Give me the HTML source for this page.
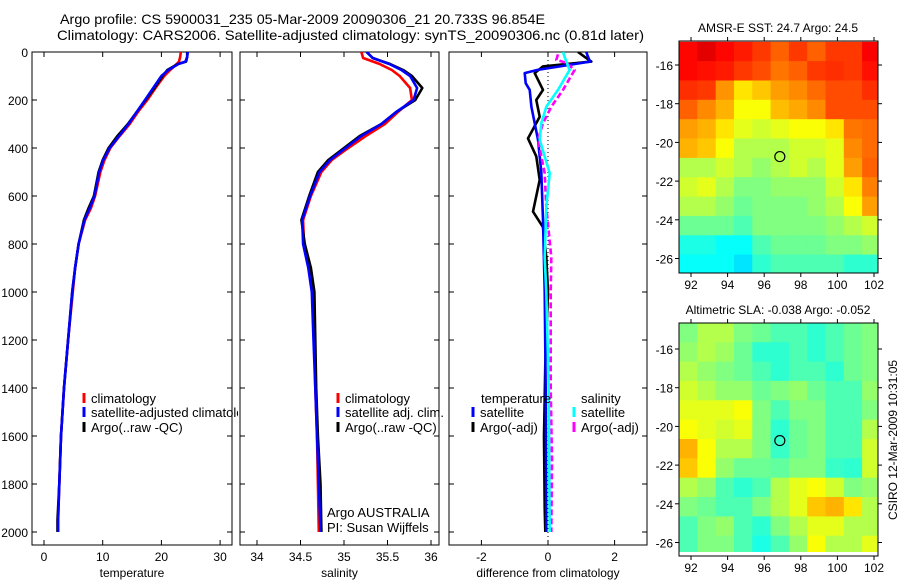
<!DOCTYPE html>
<html><head><meta charset="utf-8">
<style>
html,body{margin:0;padding:0;background:#fff;}
svg{display:block;font-family:"Liberation Sans",sans-serif;}
text{fill:#000;}
</style></head>
<body>
<svg id="chart" width="900" height="580" viewBox="0 0 900 580" xmlns="http://www.w3.org/2000/svg">
<defs>
<clipPath id="cp1"><rect x="32" y="52" width="200" height="493"/></clipPath>
<clipPath id="cp2"><rect x="240" y="52" width="199" height="493"/></clipPath>
<clipPath id="cp3"><rect x="449" y="52" width="198" height="493"/></clipPath>
<clipPath id="cpl1"><rect x="32" y="380" width="206" height="60"/></clipPath>
<clipPath id="cm1"><rect x="679" y="41" width="199" height="232"/></clipPath>
<clipPath id="cm2"><rect x="679" y="323" width="199" height="229"/></clipPath>
</defs>
<text x="60" y="24" font-size="14" textLength="485" lengthAdjust="spacingAndGlyphs">Argo profile: CS 5900031_235 05-Mar-2009 20090306_21 20.733S 96.854E</text>
<text x="57" y="40" font-size="14" textLength="587" lengthAdjust="spacingAndGlyphs">Climatology: CARS2006. Satellite-adjusted climatology: synTS_20090306.nc (0.81d later)</text>
<g id="g"></g>
</svg>
<script>
// ---------- data ----------
const tDepth=[0,20,40,50,75,100,150,200,250,300,350,400,450,500,600,650,700,800,900,1000,1200,1400,1600,1800,1950,2000];
const tClim=[23.3,23.2,23.0,22.6,21.5,20.5,19.0,17.6,16.0,14.6,12.9,11.3,10.3,9.6,8.7,8.0,7.0,5.9,5.3,4.9,4.1,3.4,2.9,2.6,2.4,2.4];
const tSat=[24.5,24.4,24.1,22.9,21.2,20.0,18.6,17.2,15.8,14.4,12.8,11.2,10.1,9.4,8.6,7.8,6.9,5.9,5.3,4.8,4.1,3.4,2.9,2.6,2.4,2.4];
const tArgo=[24.4,24.4,24.2,22.8,21.0,20.2,18.8,17.3,15.8,14.3,12.5,11.0,10.0,9.3,8.5,7.6,6.8,5.9,5.3,4.8,4.1,3.4,2.9,2.6,2.3,2.3];
const sDepth=[0,25,50,75,100,150,200,250,300,350,400,450,500,600,700,800,900,1000,1200,1400,1600,1800,2000];
const sClim=[35.2,35.22,35.41,35.55,35.64,35.76,35.78,35.62,35.47,35.25,35.05,34.86,34.74,34.62,34.53,34.54,34.6,34.64,34.66,34.67,34.69,34.7,34.71];
const sSat=[35.26,35.33,35.52,35.66,35.76,35.84,35.8,35.6,35.43,35.2,35.02,34.84,34.72,34.61,34.52,34.53,34.59,34.63,34.65,34.67,34.69,34.71,34.73];
const sArgo=[35.26,35.33,35.53,35.68,35.78,35.9,35.82,35.6,35.43,35.18,35.0,34.82,34.7,34.6,34.51,34.55,34.62,34.66,34.67,34.68,34.7,34.73,34.74];
const dTDepth=[0,20,40,75,88,130,158,228,297,366,500,700,1000,1400,2000];
const dTSat=[1.15,1.2,1.26,-0.33,-0.7,-0.67,-0.55,-0.5,-0.4,-0.3,-0.2,-0.15,-0.1,-0.07,-0.05];
const dADepth=[0,20,40,60,88,158,200,270,360,435,533,665,730,855,1000,1300,1600,1900,2000];
const dTArgo=[0.9,1.1,1.3,-0.15,-0.4,-0.15,-0.35,-0.25,-0.6,-0.35,-0.25,-0.45,-0.15,-0.05,0.0,-0.08,-0.12,-0.1,-0.08];
const dSDepth=[0,20,40,75,158,228,297,366,505,646,855,1000,1400,2000];
const dSSat=[0.45,0.5,0.55,0.65,0.3,-0.05,-0.2,-0.25,0.05,-0.05,-0.1,-0.05,0.02,0.05];
const dMDepth=[10,33,45,75,158,228,297,366,505,646,855,1000,1400,1700,2000];
const dSArgo=[0.3,0.25,0.55,0.8,0.45,0.1,-0.15,-0.3,-0.1,-0.05,0.1,0.08,0.08,0.12,0.1];
const depthTicks=[0,200,400,600,800,1000,1200,1400,1600,1800,2000];
const tempTicks=[0,10,20,30];
const salTicks=[34,34.5,35,35.5,36];
const salTickLabels=["34","34.5","35","35.5","36"];
const diffTicks=[-2,0,2];
const lonTicks=[92,94,96,98,100,102];
const sstLatTicks=[-16,-18,-20,-22,-24,-26];
const slaLatTicks=[-16,-18,-20,-22,-24,-26];
const sstGrid=[
[0.87,0.9,0.87,0.85,0.82,0.78,0.82,0.78,0.82,0.82,0.88],
[0.87,0.86,0.85,0.82,0.8,0.76,0.78,0.82,0.83,0.82,0.86],
[0.83,0.82,0.73,0.65,0.68,0.72,0.74,0.77,0.8,0.8,0.83],
[0.78,0.74,0.7,0.62,0.62,0.69,0.71,0.74,0.8,0.8,0.8],
[0.72,0.7,0.65,0.6,0.58,0.6,0.62,0.62,0.65,0.76,0.77],
[0.7,0.68,0.62,0.55,0.55,0.55,0.58,0.58,0.6,0.74,0.77],
[0.55,0.55,0.58,0.55,0.52,0.55,0.58,0.55,0.6,0.72,0.78],
[0.58,0.6,0.55,0.5,0.5,0.52,0.52,0.52,0.58,0.65,0.75],
[0.55,0.55,0.52,0.48,0.5,0.5,0.5,0.52,0.55,0.62,0.72],
[0.48,0.48,0.48,0.45,0.5,0.5,0.5,0.5,0.52,0.55,0.58],
[0.4,0.4,0.38,0.38,0.45,0.48,0.48,0.48,0.5,0.5,0.52],
[0.38,0.38,0.38,0.35,0.42,0.45,0.45,0.45,0.45,0.42,0.42]];
const slaGrid=[
[0.5,0.55,0.55,0.5,0.48,0.45,0.45,0.42,0.45,0.48,0.5],
[0.52,0.55,0.53,0.48,0.42,0.42,0.45,0.42,0.45,0.48,0.5],
[0.55,0.52,0.5,0.48,0.45,0.42,0.45,0.45,0.42,0.48,0.5],
[0.58,0.55,0.52,0.52,0.48,0.5,0.52,0.48,0.45,0.45,0.52],
[0.6,0.6,0.6,0.62,0.5,0.45,0.5,0.5,0.45,0.45,0.5],
[0.62,0.6,0.58,0.6,0.5,0.42,0.48,0.5,0.45,0.45,0.55],
[0.7,0.62,0.55,0.55,0.5,0.43,0.48,0.5,0.45,0.45,0.58],
[0.68,0.62,0.52,0.48,0.48,0.47,0.5,0.5,0.43,0.42,0.58],
[0.55,0.52,0.45,0.42,0.45,0.55,0.6,0.62,0.58,0.5,0.52],
[0.5,0.48,0.45,0.45,0.5,0.55,0.6,0.68,0.7,0.65,0.55],
[0.45,0.5,0.52,0.45,0.42,0.5,0.55,0.6,0.6,0.55,0.55],
[0.45,0.5,0.5,0.45,0.4,0.45,0.52,0.62,0.55,0.55,0.6]];
const argoLon=96.854, argoLat=-20.733;

const NS="http://www.w3.org/2000/svg";
const G=document.getElementById('g');
function mk(tag,attrs,parent){const e=document.createElementNS(NS,tag);for(const k in attrs)e.setAttribute(k,attrs[k]);(parent||G).appendChild(e);return e;}
function txt(s,x,y,size,anchor,name,parent){const e=mk('text',{x:x,y:y,'font-size':size,'text-anchor':anchor||'start'},parent);e.textContent=s;


return e;}
const yD=d=>52+d*0.24;
const xT=v=>44+v*5.87;
const xS=v=>257+(v-34)*87;
const xDf=v=>548+v*33.3;

function panel(x0,x1,name,xTicks,xfn,labels,xlabel){
  const g=mk('g',{});
  
  
  mk('rect',{x:x0,y:52,width:x1-x0,height:493,fill:'#fff',stroke:'#000','stroke-width':1},g);
  depthTicks.forEach(d=>{const y=yD(d);
    mk('line',{x1:x0,x2:x0+5,y1:y,y2:y,stroke:'#000'},g);
    mk('line',{x1:x1-5,x2:x1,y1:y,y2:y,stroke:'#000'},g);});
  xTicks.forEach((v,i)=>{const x=xfn(v);
    mk('line',{x1:x,x2:x,y1:545,y2:540,stroke:'#000'},g);
    mk('line',{x1:x,x2:x,y1:52,y2:57,stroke:'#000'},g);
    txt(labels[i],x,561,12,'middle','x-tick-label',g);});
  txt(xlabel,(x0+x1)/2,577,12,'middle','x-axis-title',g);
  return g;
}
function line(xs,ds,xfn,color,clip,name,dash,w){
  const pts=xs.map((v,i)=>xfn(v).toFixed(1)+','+yD(ds[i]).toFixed(1)).join(' ');
  const p=mk('polyline',{points:pts,fill:'none',stroke:color,'stroke-width':w||2.6,'stroke-linejoin':'round','clip-path':'url(#'+clip+')'});
  if(dash)p.setAttribute('stroke-dasharray',dash);
  
  
}
function legendEntry(x,y,color,label,name,parent){
  const g=mk('g',{},parent);
  
  
  mk('line',{x1:x,x2:x,y1:y-10,y2:y,stroke:color,'stroke-width':3},g);
  txt(label,x+7,y,13,'start','legend-label',g);
}

depthTicks.forEach(d=>txt(String(d),28,yD(d)+5,12,'end','y-tick-label'));

panel(32,232,'temperature-panel',tempTicks,xT,tempTicks.map(String),'temperature');
line(tClim,tDepth,xT,'#f00','cp1','temperature-climatology-line');
line(tArgo,tDepth,xT,'#000','cp1','temperature-argo-line');
line(tSat,tDepth,xT,'#00f','cp1','temperature-satellite-line');
const l1=mk('g',{'clip-path':'url(#cpl1)'});


legendEntry(84,403,'#f00','climatology','legend-climatology',l1);
legendEntry(84,417,'#00f','satellite-adjusted climatology','legend-satellite-adjusted',l1);
legendEntry(84,432,'#000','Argo(..raw -QC)','legend-argo',l1);

panel(240,439,'salinity-panel',salTicks,xS,salTickLabels,'salinity');
line(sClim,sDepth,xS,'#f00','cp2','salinity-climatology-line');
line(sArgo,sDepth,xS,'#000','cp2','salinity-argo-line');
line(sSat,sDepth,xS,'#00f','cp2','salinity-satellite-line');
legendEntry(338,403,'#f00','climatology','legend-climatology');
legendEntry(338,417,'#00f','satellite adj. clim.','legend-satellite-adj');
legendEntry(338,432,'#000','Argo(..raw -QC)','legend-argo');
txt('Argo AUSTRALIA',327,517,13,'start','argo-australia-label');
txt('PI: Susan Wijffels',327,532,13,'start','pi-label');

panel(449,647,'difference-panel',diffTicks,xDf,diffTicks.map(String),'difference from climatology');
mk('line',{x1:xDf(0),x2:xDf(0),y1:52,y2:545,stroke:'#000','stroke-width':1,'stroke-dasharray':'1,3'});
line(dTArgo,dADepth,xDf,'#000','cp3','temperature-argo-diff-line');
line(dTSat,dTDepth,xDf,'#00f','cp3','temperature-satellite-diff-line');
line(dSArgo,dMDepth,xDf,'#f0f','cp3','salinity-argo-diff-line','6,3');
line(dSSat,dSDepth,xDf,'#0ff','cp3','salinity-satellite-diff-line');
txt('temperature',481,403,13,'start','legend-temperature-heading');
legendEntry(473,417,'#00f','satellite','legend-temp-satellite');
legendEntry(473,432,'#000','Argo(-adj)','legend-temp-argo');
txt('salinity',581,403,13,'start','legend-salinity-heading');
legendEntry(574,417,'#0ff','satellite','legend-sal-satellite');
legendEntry(574,432,'#f0f','Argo(-adj)','legend-sal-argo');

function jet(v){
  const r=Math.min(1,Math.max(0,Math.min(4*v-1.5,-4*v+4.5)));
  const g=Math.min(1,Math.max(0,Math.min(4*v-0.5,-4*v+3.5)));
  const b=Math.min(1,Math.max(0,Math.min(4*v+0.5,-4*v+2.5)));
  return 'rgb('+Math.round(r*255)+','+Math.round(g*255)+','+Math.round(b*255)+')';
}
function mapPanel(name,grid,latTicks,top,bottom,latTop,lat16y,title,clip){
  const xL=v=>691+(v-92)*18.3;
  const yL=v=>lat16y-(v+16)*19.35;
  const g=mk('g',{});
  
  
  const cg=mk('g',{'clip-path':'url(#'+clip+')'},g);
  grid.forEach((row,ri)=>row.forEach((v,ci)=>{
    const lon=91.35+ci, lat=latTop-ri;
    const c=mk('rect',{x:xL(lon).toFixed(1),y:yL(lat).toFixed(1),width:18.9,height:19.9,fill:jet(v)},cg);
    
    
  }));
  mk('rect',{x:679,y:top,width:199,height:bottom-top,fill:'none',stroke:'#000'},g);
  lonTicks.forEach(v=>{const x=xL(v);
    mk('line',{x1:x,x2:x,y1:bottom,y2:bottom+4,stroke:'#000'},g);
    mk('line',{x1:x,x2:x,y1:top,y2:top-4,stroke:'#000'},g);
    txt(String(v),x,bottom+16,12,'middle','lon-tick-label',g);});
  latTicks.forEach(v=>{const y=yL(v);
    mk('line',{x1:679,x2:675,y1:y,y2:y,stroke:'#000'},g);
    mk('line',{x1:878,x2:882,y1:y,y2:y,stroke:'#000'},g);
    txt(String(v),673,y+5,12,'end','lat-tick-label',g);});
  const c=mk('circle',{cx:xL(argoLon),cy:yL(argoLat),r:5,fill:'none',stroke:'#000','stroke-width':1.2},g);
  
  
  txt(title,778,top-9,12,'middle','map-title',g);
}
mapPanel('sst-map',sstGrid,sstLatTicks,41,273,-14.8,65,'AMSR-E SST: 24.7 Argo: 24.5','cm1');
mapPanel('sla-map',slaGrid,slaLatTicks,323,556,-14.65,349,'Altimetric SLA: -0.038 Argo: -0.052','cm2');
const cs=txt('CSIRO 12-Mar-2009 10:31:05',0,0,12,'middle','csiro-timestamp');
cs.setAttribute('transform','translate(897,440) rotate(-90)');
</script>
</body></html>
